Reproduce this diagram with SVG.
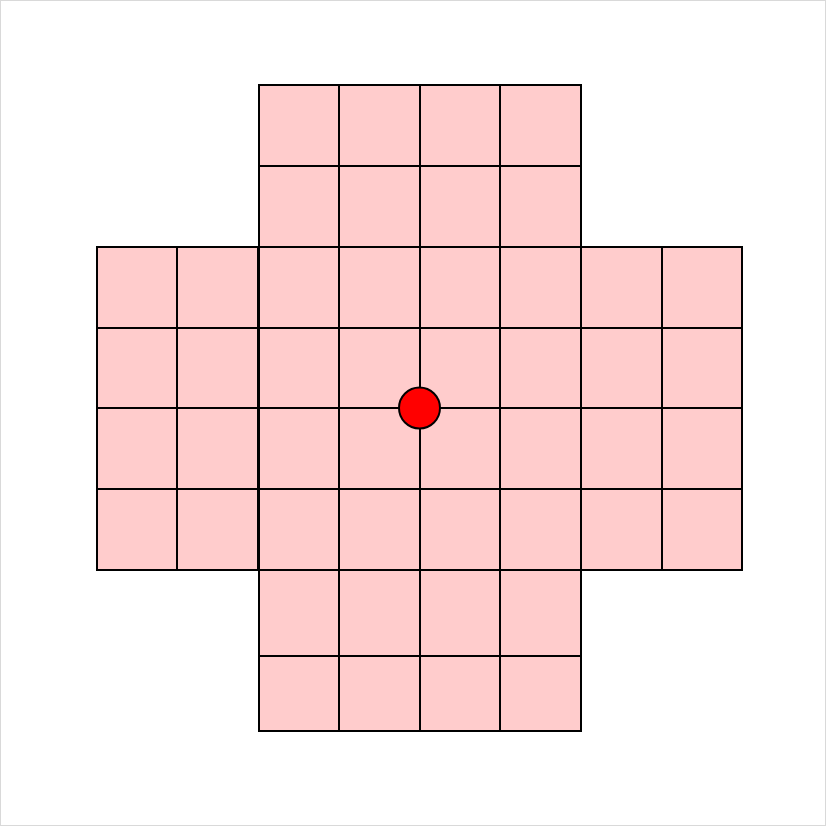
<svg xmlns="http://www.w3.org/2000/svg" width="826" height="826" viewBox="0 0 826 826">
<style>
.c{fill:#ffcccc;stroke:#000;stroke-width:2}
.g{fill:none;stroke:#000;stroke-width:2}
</style>
<rect x="0.5" y="0.5" width="825" height="825" fill="#fff" stroke="#d9d9d9" stroke-width="1"/>
<g id="left-block">
<rect class="c" x="97" y="247" width="161" height="323"/>
<path class="g" d="M177 247V570M97 328H258M97 408H258M97 489H258"/>
</g>
<g id="right-block">
<rect class="c" x="581" y="247" width="161" height="323"/>
<path class="g" d="M662 247V570M581 328H742M581 408H742M581 489H742"/>
</g>
<g id="center-block">
<rect class="c" x="259" y="85" width="322" height="646"/>
<path class="g" d="M339 85V731M420 85V731M500 85V731M259 166H581M259 247H581M259 328H581M259 408H581M259 489H581M259 570H581M259 656H581"/>
</g>
<g id="point">
<circle cx="419.5" cy="408" r="20.5" fill="#ff0000" stroke="#000" stroke-width="2"/>
</g>
</svg>
